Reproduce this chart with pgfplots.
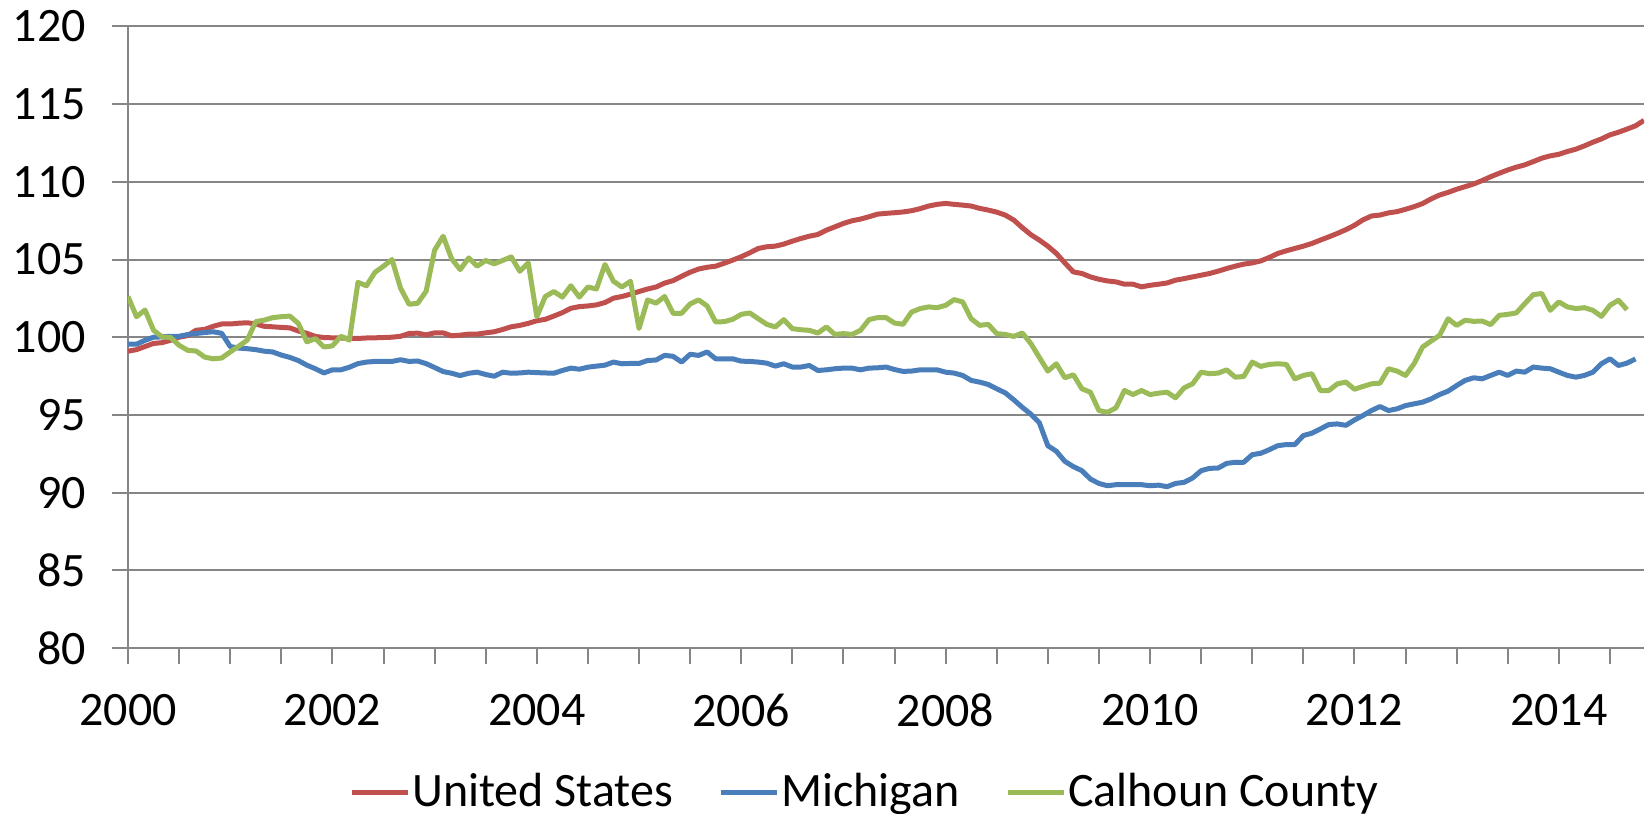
\documentclass[border=0pt]{standalone}
\usepackage{fontspec}
\setmainfont{Carlito}
\usepackage{pgfplots}
\usepackage{pgfplotstable}
\pgfplotsset{compat=1.18}
\definecolor{usred}{RGB}{192,80,77}
\definecolor{miblue}{RGB}{74,126,187}
\definecolor{cagreen}{RGB}{155,187,89}
\definecolor{gridgray}{RGB}{134,134,134}

% x = month index since Jan 2000
\pgfplotstableread{
m v
0 99.1
1 99.2
2 99.4
3 99.6
4 99.65
5 99.8
6 100.0
7 100.1
8 100.45
9 100.5
10 100.7
11 100.85
12 100.85
13 100.9
14 100.93
15 100.85
16 100.7
17 100.67
18 100.63
19 100.6
20 100.4
21 100.25
22 100.05
23 99.98
24 99.96
25 99.95
26 99.92
27 99.92
28 99.95
29 99.96
30 99.98
31 100.0
32 100.06
33 100.24
34 100.26
35 100.15
36 100.28
37 100.28
38 100.09
39 100.13
40 100.2
41 100.2
42 100.28
43 100.35
44 100.5
45 100.67
46 100.76
47 100.89
48 101.06
49 101.15
50 101.36
51 101.58
52 101.86
53 101.97
54 102.01
55 102.08
56 102.23
57 102.51
58 102.62
59 102.77
60 102.94
61 103.1
62 103.23
63 103.48
64 103.64
65 103.92
66 104.18
67 104.39
68 104.5
69 104.57
70 104.76
71 104.96
72 105.18
73 105.43
74 105.71
75 105.82
76 105.86
77 105.99
78 106.18
79 106.35
80 106.5
81 106.61
82 106.89
83 107.1
84 107.32
85 107.49
86 107.6
87 107.75
88 107.92
89 107.97
90 108.01
91 108.06
92 108.14
93 108.27
94 108.44
95 108.55
96 108.61
97 108.55
98 108.5
99 108.44
100 108.29
101 108.18
102 108.05
103 107.86
104 107.54
105 107.05
106 106.6
107 106.25
108 105.86
109 105.39
110 104.78
111 104.2
112 104.1
113 103.88
114 103.73
115 103.62
116 103.56
117 103.41
118 103.41
119 103.24
120 103.34
121 103.41
122 103.49
123 103.67
124 103.77
125 103.88
126 103.99
127 104.1
128 104.25
129 104.42
130 104.57
131 104.7
132 104.78
133 104.91
134 105.13
135 105.39
136 105.56
137 105.71
138 105.86
139 106.03
140 106.25
141 106.46
142 106.68
143 106.92
144 107.2
145 107.55
146 107.8
147 107.86
148 108.0
149 108.08
150 108.23
151 108.4
152 108.6
153 108.9
154 109.15
155 109.32
156 109.52
157 109.69
158 109.86
159 110.08
160 110.33
161 110.55
162 110.76
163 110.94
164 111.09
165 111.3
166 111.52
167 111.67
168 111.77
169 111.95
170 112.1
171 112.31
172 112.55
173 112.76
174 113.02
175 113.19
176 113.39
177 113.6
178 113.95
}\us

\pgfplotstableread{
m v
0 99.55
1 99.55
2 99.8
3 100.0
4 100.02
5 100.06
6 100.06
7 100.17
8 100.24
9 100.3
10 100.35
11 100.25
12 99.4
13 99.3
14 99.26
15 99.2
16 99.1
17 99.05
18 98.85
19 98.7
20 98.5
21 98.2
22 97.97
23 97.7
24 97.9
25 97.9
26 98.07
27 98.3
28 98.4
29 98.44
30 98.44
31 98.44
32 98.55
33 98.44
34 98.47
35 98.3
36 98.05
37 97.79
38 97.68
39 97.53
40 97.68
41 97.75
42 97.6
43 97.49
44 97.75
45 97.68
46 97.7
47 97.75
48 97.72
49 97.7
50 97.68
51 97.86
52 98.01
53 97.94
54 98.07
55 98.14
56 98.2
57 98.4
58 98.29
59 98.31
60 98.31
61 98.5
62 98.53
63 98.83
64 98.77
65 98.4
66 98.9
67 98.83
68 99.05
69 98.61
70 98.61
71 98.61
72 98.46
73 98.44
74 98.4
75 98.33
76 98.14
77 98.29
78 98.08
79 98.08
80 98.18
81 97.86
82 97.9
83 97.97
84 98.01
85 98.01
86 97.9
87 98.01
88 98.03
89 98.08
90 97.92
91 97.8
92 97.82
93 97.9
94 97.9
95 97.9
96 97.75
97 97.69
98 97.54
99 97.22
100 97.11
101 96.96
102 96.68
103 96.42
104 95.97
105 95.49
106 95.05
107 94.5
108 93.02
109 92.66
110 92.01
111 91.67
112 91.41
113 90.87
114 90.59
115 90.44
116 90.51
117 90.51
118 90.51
119 90.51
120 90.44
121 90.48
122 90.38
123 90.59
124 90.66
125 90.94
126 91.41
127 91.56
128 91.58
129 91.88
130 91.95
131 91.95
132 92.44
133 92.53
134 92.76
135 93.02
136 93.09
137 93.09
138 93.67
139 93.82
140 94.1
141 94.38
142 94.42
143 94.33
144 94.67
145 94.96
146 95.28
147 95.54
148 95.28
149 95.39
150 95.6
151 95.71
152 95.82
153 96.03
154 96.31
155 96.53
156 96.89
157 97.22
158 97.39
159 97.32
160 97.54
161 97.75
162 97.54
163 97.82
164 97.75
165 98.08
166 98.01
167 97.97
168 97.75
169 97.54
170 97.43
171 97.54
172 97.75
173 98.29
174 98.61
175 98.18
176 98.33
177 98.6
}\mi

\pgfplotstableread{
m v
0 102.62
1 101.32
2 101.75
3 100.45
4 100.02
5 99.98
6 99.48
7 99.16
8 99.11
9 98.72
10 98.61
11 98.66
12 99.05
13 99.42
14 99.81
15 101.0
16 101.1
17 101.26
18 101.32
19 101.36
20 100.89
21 99.7
22 99.91
23 99.37
24 99.44
25 100.06
26 99.81
27 103.53
28 103.31
29 104.18
30 104.57
31 105.0
32 103.16
33 102.12
34 102.18
35 102.95
36 105.6
37 106.5
38 105.04
39 104.35
40 105.1
41 104.57
42 104.94
43 104.72
44 104.94
45 105.17
46 104.24
47 104.78
48 101.32
49 102.62
50 102.94
51 102.58
52 103.31
53 102.58
54 103.23
55 103.1
56 104.68
57 103.6
58 103.23
59 103.6
60 100.56
61 102.4
62 102.19
63 102.62
64 101.54
65 101.54
66 102.14
67 102.4
68 102.01
69 100.98
70 101.0
71 101.15
72 101.47
73 101.56
74 101.19
75 100.83
76 100.66
77 101.13
78 100.55
79 100.48
80 100.44
81 100.27
82 100.66
83 100.18
84 100.23
85 100.18
86 100.44
87 101.13
88 101.26
89 101.26
90 100.91
91 100.83
92 101.62
93 101.84
94 101.95
95 101.9
96 102.05
97 102.42
98 102.27
99 101.19
100 100.76
101 100.83
102 100.23
103 100.18
104 100.05
105 100.27
106 99.6
107 98.7
108 97.82
109 98.29
110 97.39
111 97.58
112 96.68
113 96.46
114 95.28
115 95.17
116 95.45
117 96.57
118 96.31
119 96.57
120 96.31
121 96.4
122 96.46
123 96.1
124 96.74
125 97.0
126 97.75
127 97.65
128 97.69
129 97.9
130 97.43
131 97.47
132 98.4
133 98.12
134 98.25
135 98.29
136 98.25
137 97.32
138 97.54
139 97.65
140 96.57
141 96.57
142 97.0
143 97.11
144 96.65
145 96.83
146 97.0
147 97.04
148 97.97
149 97.82
150 97.54
151 98.29
152 99.37
153 99.75
154 100.12
155 101.19
156 100.76
157 101.09
158 101.02
159 101.04
160 100.81
161 101.41
162 101.47
163 101.56
164 102.16
165 102.74
166 102.81
167 101.73
168 102.27
169 101.95
170 101.84
171 101.9
172 101.73
173 101.34
174 102.05
175 102.38
176 101.77
}\ca

\begin{document}
\begin{tikzpicture}
\begin{axis}[
  scale only axis, width=379pt, height=155.4pt,
  xmin=0, xmax=178, ymin=80, ymax=120,
  axis x line*=bottom, axis y line*=left,
  axis line style={gridgray, line width=0.5pt, -},
  ytick={80,85,...,120},
  xtick={0,24,...,168},
  xticklabels={2000,2002,2004,2006,2008,2010,2012,2014},
  minor xtick={6,12,...,174},
  tick align=outside, major tick length=4pt, minor tick length=4pt,
  tick style={gridgray, line width=0.5pt},
  ymajorgrids, grid style={gridgray, line width=0.5pt},
  /pgf/number format/assume math mode=true,
  ticklabel style={font=\fontsize{12}{14}\selectfont},
  yticklabel style={xshift=-3pt},
  xticklabel style={yshift=-4pt},
  legend style={at={(0.486,-0.233)}, anchor=center, draw=none, fill=none,
    legend columns=3, font=\fontsize{12}{14}\selectfont,
    /tikz/every even column/.append style={column sep=11pt},
    nodes={inner xsep=0.4pt}},
  legend image code/.code={\draw[#1, line width=1.25pt] (0pt,0pt) -- (14pt,0pt);},
  every axis plot/.append style={line width=1.25pt, line join=round},
]
\addplot[usred, no markers] table[x=m, y=v] {\us};
\addlegendentry{United States}
\addplot[miblue, no markers] table[x=m, y=v] {\mi};
\addlegendentry{Michigan}
\addplot[cagreen, no markers] table[x=m, y=v] {\ca};
\addlegendentry{Calhoun County}
\end{axis}
\pgfresetboundingbox
\path[use as bounding box] (-32pt,-41.25pt) rectangle (379.75pt,162pt);
\end{tikzpicture}
\end{document}
